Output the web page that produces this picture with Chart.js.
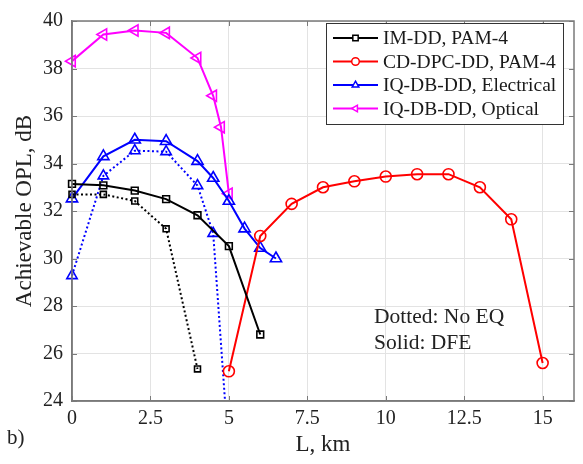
<!DOCTYPE html>
<html>
<head>
<meta charset="utf-8">
<script src="https://cdn.jsdelivr.net/npm/chart.js@4"></script>
<style>
  html, body { margin: 0; padding: 0; background: #fff; }
  #wrap { width: 583px; height: 464px; }
</style>
</head>
<body>
<div id="wrap"><canvas id="oplChart" width="583" height="464"></canvas></div>
<script>
// Data
const xImdd = [0, 1, 2, 3, 4, 5, 6];
const yImddDfe = [33.14, 33.08, 32.86, 32.5, 31.82, 30.52, 26.8];
const xImddNoEq = [0, 1, 2, 3, 4];
const yImddNoEq = [32.7, 32.7, 32.42, 31.25, 25.35];

const xCdDpc = [5, 6, 7, 8, 9, 10, 11, 12, 13, 14, 15];
const yCdDpc = [25.25, 30.95, 32.3, 33.0, 33.25, 33.45, 33.55, 33.55, 33.0, 31.65, 25.6];

const xIqElec = [0, 1, 2, 3, 4, 4.5, 5, 5.5, 6, 6.5];
const yIqElecDfe = [32.52, 34.3, 35.0, 34.94, 34.1, 33.39, 32.42, 31.26, 30.44, 30.0];
const xIqElecNoEq = [0, 1, 2, 3, 4, 4.5, 5];
const yIqElecNoEq = [29.28, 33.48, 34.54, 34.5, 33.07, 31.06, 21.7];

const xIqOpt = [0, 1, 2, 3, 4, 4.5, 4.75, 5];
const yIqOpt = [38.31, 39.43, 39.6, 39.5, 38.44, 36.85, 35.53, 32.73];

const xTicks = [0, 2.5, 5, 7.5, 10, 12.5, 15];
const yTicks = [24, 26, 28, 30, 32, 34, 36, 38, 40];

const legendLabels = ['IM-DD, PAM-4', 'CD-DPC-DD, PAM-4', 'IQ-DB-DD, Electrical', 'IQ-DB-DD, Optical'];
const noteLines = ['Dotted: No EQ', 'Solid: DFE'];

const serif = '"Liberation Serif", "Times New Roman", serif';

function pts(xs, ys) {
  return xs.map((x, i) => ({ x: x, y: ys[i] }));
}

function series(label, xs, ys, color, style, radius, dotted, rotation) {
  return {
    label: label,
    data: pts(xs, ys),
    borderColor: color,
    backgroundColor: 'rgba(0,0,0,0)',
    pointBorderColor: color,
    pointBackgroundColor: 'rgba(0,0,0,0)',
    pointStyle: style,
    pointRadius: radius,
    pointBorderWidth: 1.6,
    pointRotation: rotation || 0,
    borderWidth: 2,
    borderDash: dotted ? [2, 2.5] : [],
    tension: 0,
    showLine: true,
    clip: false,
    inLegend: !dotted
  };
}

const datasets = [
  series(legendLabels[0], xImdd, yImddDfe, '#000000', 'rect', 4.8, false),
  series(legendLabels[0] + ' (No EQ)', xImddNoEq, yImddNoEq, '#000000', 'rect', 4.2, true),
  series(legendLabels[1], xCdDpc, yCdDpc, '#ff0000', 'circle', 5.5, false),
  series(legendLabels[2], xIqElec, yIqElecDfe, '#0000ff', 'triangle', 6.5, false),
  series(legendLabels[2] + ' (No EQ)', xIqElecNoEq, yIqElecNoEq, '#0000ff', 'triangle', 6, true),
  series(legendLabels[3], xIqOpt, yIqOpt, '#ff00ff', 'triangle', 6.5, false, -90)
];
// the last No EQ point of the electrical curve falls below the axis
datasets[4].clip = { left: false, top: false, right: false, bottom: 0 };

// frame with inner ticks, legend box, note and panel label
const extras = {
  id: 'extras',
  afterDatasetsDraw(chart) {
    const ctx = chart.ctx;
    const a = chart.chartArea;
    const xs = chart.scales.x, ys = chart.scales.y;
    ctx.save();
    ctx.strokeStyle = '#7a7a7a';
    ctx.lineWidth = 1.5;
    ctx.strokeRect(a.left, a.top, a.right - a.left, a.bottom - a.top);
    ctx.lineWidth = 1;
    ctx.beginPath();
    xTicks.forEach(v => {
      const p = Math.round(xs.getPixelForValue(v)) + 0.5;
      ctx.moveTo(p, a.bottom); ctx.lineTo(p, a.bottom - 5);
      ctx.moveTo(p, a.top); ctx.lineTo(p, a.top + 5);
    });
    yTicks.forEach(v => {
      const p = Math.round(ys.getPixelForValue(v)) + 0.5;
      ctx.moveTo(a.left, p); ctx.lineTo(a.left + 5, p);
      ctx.moveTo(a.right, p); ctx.lineTo(a.right - 5, p);
    });
    ctx.stroke();

    // legend
    const bx = 326, by = 23, bw = 237, bh = 101;
    ctx.fillStyle = '#ffffff';
    ctx.fillRect(bx, by, bw, bh);
    ctx.strokeStyle = '#333333';
    ctx.lineWidth = 1;
    ctx.strokeRect(bx + 0.5, by + 0.5, bw, bh);
    const shown = chart.data.datasets.filter(d => d.inLegend);
    ctx.font = '19.5px ' + serif;
    ctx.textBaseline = 'middle';
    shown.forEach((d, i) => {
      const y = by + 15 + i * 23.5;
      ctx.strokeStyle = d.borderColor;
      ctx.lineWidth = 2;
      ctx.setLineDash([]);
      ctx.beginPath();
      ctx.moveTo(333, y);
      ctx.lineTo(378, y);
      ctx.stroke();
      ctx.fillStyle = '#ffffff';
      ctx.lineWidth = 1.5;
      Chart.helpers.drawPoint(ctx, {
        pointStyle: d.pointStyle, radius: 3.8, rotation: d.pointRotation, borderWidth: 1.5
      }, 355.5, y);
      ctx.fillStyle = '#1a1a1a';
      ctx.textAlign = 'left';
      ctx.fillText(d.label, 383, y + 1);
    });

    // note
    ctx.fillStyle = '#222222';
    ctx.font = '21.5px ' + serif;
    ctx.fillText(noteLines[0], 374, 317);
    ctx.fillText(noteLines[1], 374, 343);

    // panel label
    ctx.font = '21px ' + serif;
    ctx.fillText('b)', 7, 438);
    ctx.restore();
  }
};

const ctx = document.getElementById('oplChart').getContext('2d');
const oplChart = new Chart(ctx, {
  type: 'scatter',
  data: { datasets: datasets },
  options: {
    responsive: false,
    animation: false,
    layout: { padding: { left: 0, right: 9, top: 11, bottom: 0 } },
    plugins: {
      legend: { display: false },
      tooltip: { enabled: false }
    },
    scales: {
      x: {
        type: 'linear',
        min: 0,
        max: 16,
        afterBuildTicks: s => { s.ticks = xTicks.map(v => ({ value: v })); },
        afterFit: s => { s.height = 63; },
        grid: { color: '#e3e3e3', lineWidth: 1, drawTicks: false },
        border: { color: '#7a7a7a', width: 1.5 },
        ticks: {
          color: '#222222',
          font: { family: serif, size: 20 },
          padding: 6,
          maxRotation: 0,
          autoSkip: false
        },
        title: {
          display: true,
          text: 'L, km',
          color: '#222222',
          font: { family: serif, size: 23 },
          padding: { top: 0, bottom: 5 }
        }
      },
      y: {
        type: 'linear',
        min: 24,
        max: 40,
        afterBuildTicks: s => { s.ticks = yTicks.map(v => ({ value: v })); },
        afterFit: s => { s.width = 72; },
        grid: { color: '#e3e3e3', lineWidth: 1, drawTicks: false },
        border: { color: '#7a7a7a', width: 1.5 },
        ticks: {
          color: '#222222',
          font: { family: serif, size: 20 },
          padding: 9
        },
        title: {
          display: true,
          text: 'Achievable OPL, dB',
          color: '#222222',
          font: { family: serif, size: 23 },
          padding: { top: 11, bottom: 0 }
        }
      }
    }
  },
  plugins: [extras]
});
</script>
</body>
</html>
